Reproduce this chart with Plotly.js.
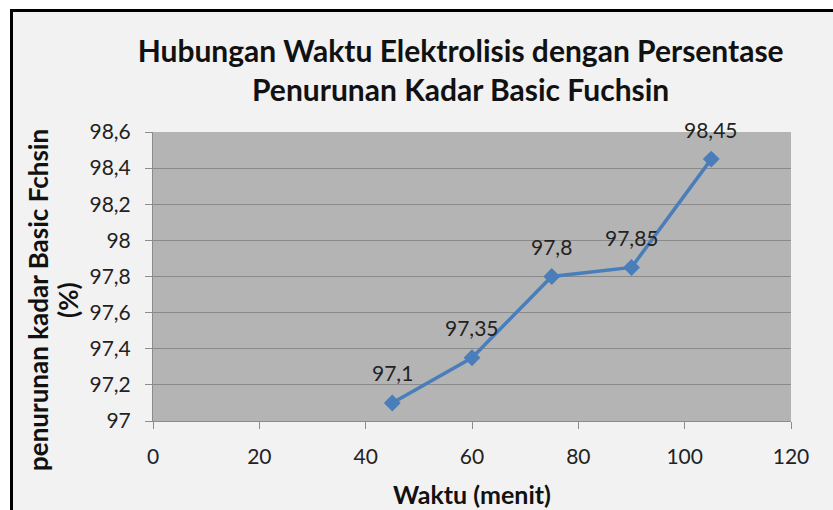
<!DOCTYPE html>
<html><head><meta charset="utf-8">
<script src="https://cdn.plot.ly/plotly-3.0.1.min.js"></script>
<style>
body{margin:0;background:#fff;}
#frame{position:absolute;left:10px;top:9px;width:900px;height:600px;border:3px solid #000;background:#f2f2f2;}
#chart{position:absolute;left:0;top:0;width:833px;height:510px;}
</style></head>
<body><div id="frame"></div><div id="chart"></div>
<script>
const waktu = [45, 60, 75, 90, 105];
const penurunan = [97.1, 97.35, 97.8, 97.85, 98.45];
const labels = ["97,1", "97,35", "97,8", "97,85", "98,45"];
const xTicks = [0, 20, 40, 60, 80, 100, 120];
const yTicks = [97, 97.2, 97.4, 97.6, 97.8, 98, 98.2, 98.4, 98.6];
const titleText = 'Hubungan Waktu Elektrolisis dengan Persentase<br>Penurunan Kadar Basic Fuchsin';
const xTitle = 'Waktu (menit)';
const yTitle1 = 'penurunan kadar Basic Fchsin';
const yTitle2 = '(%)';

const FONT = 'Lato, "Open Sans", sans-serif';
const trace = {
  x: waktu, y: penurunan, type: 'scatter', mode: 'lines+markers',
  line: {color: '#4a7ebb', width: 3.5},
  marker: {symbol: 'diamond', size: 13, color: '#4a7ebb'},
  hoverinfo: 'skip'
};
const annotations = waktu.map((x, i) => ({
  x: x, y: penurunan[i], text: labels[i], showarrow: false,
  yshift: 30, font: {family: FONT, size: 21, color: '#222'}
}));
annotations.push({xref: 'paper', yref: 'paper', x: 0.5, y: 0, yshift: -73,
  xanchor: 'center', yanchor: 'middle', showarrow: false,
  text: '<b>' + xTitle + '</b>', font: {family: FONT, size: 25, color: '#111'}});
annotations.push({xref: 'paper', yref: 'paper', x: 0, y: 0.4187, xshift: -115,
  xanchor: 'center', yanchor: 'middle', showarrow: false, textangle: -90,
  text: '<b>' + yTitle1 + '</b>', font: {family: FONT, size: 26, color: '#111'}});
annotations.push({xref: 'paper', yref: 'paper', x: 0, y: 0.4187, xshift: -85,
  xanchor: 'center', yanchor: 'middle', showarrow: false, textangle: -90,
  text: '<b>' + yTitle2 + '</b>', font: {family: FONT, size: 26, color: '#111'}});

const layout = {
  width: 833, height: 510,
  margin: {l: 153, r: 42, t: 132, b: 89},
  paper_bgcolor: 'rgba(0,0,0,0)', plot_bgcolor: '#b4b4b4',
  separators: ',.',
  showlegend: false,
  font: {family: FONT, color: '#222'},
  title: {text: '<b>' + titleText + '</b>',
    x: 0.553, xanchor: 'center', y: 0.8775, yanchor: 'middle',
    font: {family: FONT, size: 30, color: '#111'}},
  xaxis: {range: [0, 120], tickvals: xTicks, showgrid: false, zeroline: false,
    showline: true, linecolor: '#8c8c8c', linewidth: 1,
    ticks: 'outside', ticklen: 7, tickcolor: '#8c8c8c', ticklabelstandoff: 10,
    tickfont: {family: FONT, size: 21, color: '#222'}},
  yaxis: {range: [97, 98.6], tickvals: yTicks, showgrid: true, gridcolor: '#8a8a8a', gridwidth: 1,
    zeroline: false, showline: true, linecolor: '#8c8c8c', linewidth: 1,
    ticks: 'outside', ticklen: 7, tickcolor: '#8c8c8c', ticklabelstandoff: 10,
    tickfont: {family: FONT, size: 21, color: '#222'}},
  annotations: annotations
};
Plotly.newPlot('chart', [trace], layout, {displayModeBar: false, staticPlot: true});
</script></body></html>
